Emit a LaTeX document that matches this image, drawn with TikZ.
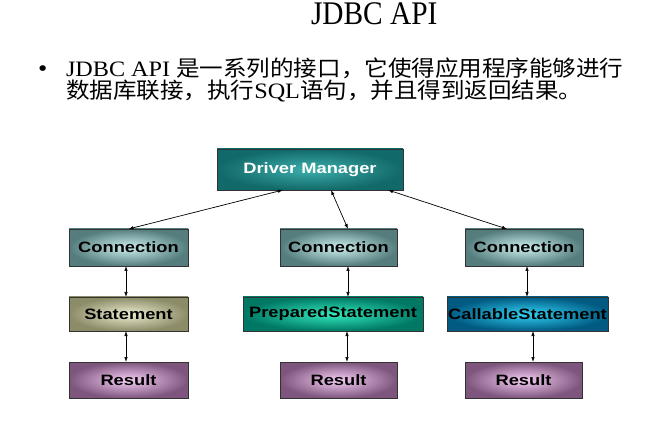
\documentclass[tikz,border=0pt]{standalone}
\usepackage{fontspec}
\setmainfont[FakeStretch=1.07]{Noto Sans CJK SC}
\newfontfamily\latn[FakeStretch=1.1]{Liberation Serif}
\newfontfamily\titlefont[FakeStretch=0.89]{Liberation Serif}
\newfontfamily\boxfont[FakeStretch=1.22]{Liberation Sans}
\usetikzlibrary{arrows.meta}
\definecolor{dmout}{RGB}{18,105,105}
\definecolor{dmin}{RGB}{60,175,172}
\definecolor{connout}{RGB}{85,125,125}
\definecolor{connin}{RGB}{205,240,240}
\definecolor{stout}{RGB}{140,140,105}
\definecolor{stin}{RGB}{238,238,210}
\definecolor{prepout}{RGB}{0,120,100}
\definecolor{prepin}{RGB}{50,235,190}
\definecolor{callout}{RGB}{0,90,130}
\definecolor{callin}{RGB}{50,210,245}
\definecolor{resout}{RGB}{125,85,125}
\definecolor{resin}{RGB}{245,205,245}
\begin{document}
\begin{tikzpicture}[x=1pt,
y=-1pt,
every node/.style={
rectangle,
align=center,
anchor=north west,
inner sep=0pt,
outer sep=0pt,
},
box/.style={
draw=black!80,
line width=0.6pt,
font={\fontsize{15}{18}\selectfont\boxfont\bfseries},
},
textline/.style={
anchor=base west,
text height=17pt,
text depth=2pt,
font=\fontsize{22}{26}\selectfont,
},
dmbox/.style={inner color=dmin,outer color=dmout,text=white},
connbox/.style={inner color=connin,outer color=connout},
stbox/.style={inner color=stin,outer color=stout},
prepbox/.style={inner color=prepin,outer color=prepout},
callbox/.style={inner color=callin,outer color=callout},
resbox/.style={inner color=resin,outer color=resout},
link/.style={<->,line width=0.7pt,>={Latex[length=5pt,width=3.5pt]}}]

\fill[white] (0,0) rectangle (659,422);
\useasboundingbox (0,0) rectangle (659,422);

%Title and text
\node[anchor=base west,font=\fontsize{33}{36}\selectfont\titlefont] (title) at (311,25) {JDBC API};
\node[anchor=base west,text height=10pt,text depth=0pt,font=\fontsize{24}{28}\selectfont\latn] (dot) at (38,76.5) {•};
\node[textline] (line1) at (66,76.5) {{\latn JDBC API }是一系列的接口，它使得应用程序能够进行};
\node[textline] (line2) at (66,99) {数据库联接，执行{\latn SQL}语句，并且得到返回结果。};

%Driver manager
\node[box,dmbox,minimum width=186pt,minimum height=41pt] (dm) at (217,149) {Driver Manager};

%Connections
\node[box,connbox,minimum width=119pt,minimum height=37pt] (c1) at (69,229) {Connection};
\node[box,connbox,minimum width=117pt,minimum height=37pt] (c2) at (280,229) {Connection};
\node[box,connbox,minimum width=118pt,minimum height=37pt] (c3) at (465,229) {Connection};

%Statements
\node[box,stbox,minimum width=119pt,minimum height=34pt] (st) at (69,297) {Statement};
\node[box,prepbox,minimum width=180pt,minimum height=34pt] (ps) at (243,297) {PreparedStatement};
\node[box,callbox,minimum width=161pt,minimum height=34pt] (cs) at (447,297) {CallableStatement};

%Results
\node[box,resbox,minimum width=119pt,minimum height=36pt] (r1) at (69,362) {Result};
\node[box,resbox,minimum width=117pt,minimum height=36pt] (r2) at (280,362) {Result};
\node[box,resbox,minimum width=117pt,minimum height=36pt] (r3) at (465,362) {Result};

%Arrows
\draw[link] ([xshift=-27pt]dm.south) -- (c1.north);
\draw[link] ([xshift=21pt]dm.south) -- ([xshift=9.5pt]c2.north);
\draw[link] ([xshift=78pt]dm.south) -- ([xshift=-17pt]c3.north);
\draw[link] ([xshift=-2.5pt]c1.south) -- ([xshift=-2.5pt]st.north);
\draw[link] ([xshift=9.5pt]c2.south) -- ([xshift=15pt]ps.north);
\draw[link] ([xshift=3pt]c3.south) -- ([xshift=-0.5pt]cs.north);
\draw[link] ([xshift=-2.5pt]st.south) -- ([xshift=-2.5pt]r1.north);
\draw[link] ([xshift=14pt]ps.south) -- ([xshift=8.5pt]r2.north);
\draw[link] ([xshift=5.5pt]cs.south) -- ([xshift=9.5pt]r3.north);
\end{tikzpicture}
\end{document}
